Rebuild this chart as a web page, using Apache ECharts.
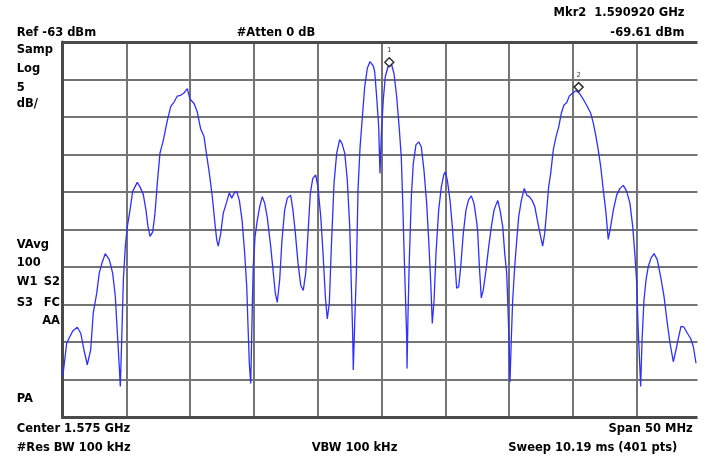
<!DOCTYPE html>
<html>
<head>
<meta charset="utf-8">
<script src="https://cdn.jsdelivr.net/npm/echarts@6/dist/echarts.min.js"></script>
<style>
  html, body { margin: 0; padding: 0; background: #ffffff; }
  #chart { width: 707px; height: 461px; }
</style>
</head>
<body>
<div id="chart"></div>
<script>
// Spectrum analyzer trace: frequency (MHz) and level (dBm)
const freqMHz = [
  1550.49, 1550.80, 1551.27, 1551.63, 1551.90, 1552.15, 1552.41, 1552.68, 1552.88, 1553.15,
  1553.35, 1553.57, 1553.82, 1554.14, 1554.40, 1554.61, 1554.77, 1554.92, 1555.00, 1555.11,
  1555.24, 1555.39, 1555.55, 1555.76, 1555.97, 1556.15, 1556.33, 1556.54, 1556.80, 1557.01,
  1557.17, 1557.33, 1557.54, 1557.72, 1557.90, 1558.11, 1558.37, 1558.68, 1558.95, 1559.21,
  1559.47, 1559.73, 1559.99, 1560.25, 1560.46, 1560.78, 1561.03, 1561.30, 1561.56, 1561.77,
  1561.98, 1562.21, 1562.40, 1562.56, 1562.68, 1562.87, 1563.07, 1563.34, 1563.54, 1563.73,
  1563.91, 1564.12, 1564.33, 1564.54, 1564.75, 1564.91, 1565.01, 1565.11, 1565.22, 1565.27,
  1565.35, 1565.42, 1565.56, 1565.74, 1565.93, 1566.13, 1566.32, 1566.52, 1566.79, 1566.97,
  1567.15, 1567.30, 1567.49, 1567.67, 1567.88, 1568.09, 1568.35, 1568.53, 1568.72, 1568.93,
  1569.14, 1569.34, 1569.53, 1569.71, 1569.89, 1570.08, 1570.31, 1570.49, 1570.71, 1570.89,
  1571.07, 1571.22, 1571.38, 1571.54, 1571.75, 1571.96, 1572.19, 1572.37, 1572.59, 1572.79,
  1572.98, 1573.10, 1573.21, 1573.26, 1573.37, 1573.50, 1573.63, 1573.79, 1573.97, 1574.15,
  1574.36, 1574.57, 1574.83, 1574.94, 1575.09, 1575.25, 1575.35, 1575.46, 1575.61, 1575.77,
  1575.98, 1576.24, 1576.45, 1576.66, 1576.87, 1577.02, 1577.13, 1577.23, 1577.34, 1577.45,
  1577.47, 1577.55, 1577.65, 1577.81, 1577.96, 1578.17, 1578.39, 1578.59, 1578.80, 1579.01,
  1579.17, 1579.33, 1579.45, 1579.59, 1579.74, 1579.95, 1580.16, 1580.35, 1580.47, 1580.63,
  1580.84, 1581.02, 1581.21, 1581.36, 1581.52, 1581.68, 1581.88, 1582.09, 1582.30, 1582.51,
  1582.72, 1582.93, 1583.01, 1583.14, 1583.29, 1583.45, 1583.66, 1583.87, 1584.08, 1584.29,
  1584.44, 1584.58, 1584.76, 1584.97, 1585.13, 1585.28, 1585.38, 1585.46, 1585.54, 1585.64,
  1585.75, 1585.91, 1586.07, 1586.22, 1586.43, 1586.66, 1586.85, 1587.05, 1587.27, 1587.48,
  1587.68, 1587.89, 1588.10, 1588.26, 1588.42, 1588.57, 1588.73, 1588.93, 1589.15, 1589.36,
  1589.56, 1589.77, 1589.98, 1590.19, 1590.45, 1590.71, 1590.97, 1591.24, 1591.34, 1591.60,
  1591.87, 1592.07, 1592.28, 1592.46, 1592.65, 1592.85, 1593.04, 1593.24, 1593.43, 1593.64,
  1593.90, 1594.16, 1594.42, 1594.69, 1594.94, 1595.16, 1595.34, 1595.47, 1595.57, 1595.67,
  1595.78, 1595.89, 1596.04, 1596.20, 1596.38, 1596.59, 1596.83, 1597.08, 1597.35, 1597.61,
  1597.87, 1598.08, 1598.34, 1598.55, 1598.76, 1598.94, 1599.18, 1599.44, 1599.70, 1599.91,
  1600.12
];
const levelDbm = [
  -107.6, -103.1, -101.5, -101.0, -101.8, -104.0, -106.0, -104.0, -99.1, -96.5,
  -93.8, -92.4, -91.2, -92.0, -93.8, -96.9, -101.8, -106.3, -108.9, -102.7,
  -94.7, -90.3, -87.6, -85.4, -82.9, -82.3, -81.7, -82.3, -83.3, -85.4,
  -87.6, -88.9, -88.3, -85.8, -81.8, -77.8, -76.1, -73.5, -71.6, -71.0,
  -70.2, -70.1, -69.8, -69.2, -70.6, -71.2, -72.3, -74.6, -75.6, -78.1,
  -80.5, -83.6, -86.9, -89.4, -90.2, -88.5, -85.8, -84.3, -83.1, -83.8,
  -83.2, -82.9, -84.1, -86.7, -91.2, -95.6, -100.9, -105.8, -108.5, -104.5,
  -97.8, -92.9, -88.9, -86.7, -84.9, -83.6, -84.5, -86.4, -90.3, -93.4,
  -96.5, -97.7, -94.7, -89.4, -85.4, -83.8, -83.4, -85.4, -88.5, -92.5,
  -95.4, -96.1, -93.8, -88.5, -83.2, -81.2, -80.7, -82.3, -86.3, -91.2,
  -96.9, -99.9, -97.8, -90.3, -81.8, -77.8, -76.0, -76.5, -77.8, -81.4,
  -87.6, -95.1, -101.8, -106.7, -100.5, -93.8, -82.7, -77.0, -73.0, -69.0,
  -66.5, -65.6, -66.2, -67.0, -70.3, -74.3, -80.5, -75.2, -70.7, -67.6,
  -66.3, -65.9, -67.2, -70.3, -74.7, -78.3, -84.1, -90.3, -96.5, -102.7,
  -106.5, -99.1, -92.0, -83.6, -79.2, -76.7, -76.3, -77.0, -80.1, -84.5,
  -89.4, -95.1, -100.5, -97.4, -91.2, -85.4, -82.3, -80.7, -80.3, -81.4,
  -84.1, -87.6, -92.0, -95.8, -95.6, -92.9, -88.5, -85.4, -84.0, -83.5,
  -84.5, -87.0, -88.3, -92.9, -97.1, -96.0, -93.4, -90.3, -87.6, -85.4,
  -84.7, -84.1, -85.4, -87.6, -91.2, -93.8, -98.3, -102.7, -108.3, -102.7,
  -97.4, -92.9, -89.4, -86.3, -84.1, -82.5, -83.4, -83.6, -84.1, -84.9,
  -86.7, -88.5, -90.2, -88.5, -85.4, -82.3, -80.5, -77.4, -75.6, -74.3,
  -72.5, -71.4, -71.1, -70.2, -69.8, -69.5, -69.8, -70.5, -70.7, -71.6,
  -72.5, -73.8, -75.6, -77.4, -79.6, -82.7, -85.4, -89.3, -87.6, -85.4,
  -83.4, -82.5, -82.1, -82.9, -84.5, -87.6, -91.6, -95.1, -100.5, -104.5,
  -108.9, -102.7, -97.4, -94.7, -92.9, -91.8, -91.2, -92.0, -94.3, -96.9,
  -100.5, -103.1, -105.6, -104.0, -102.3, -100.9, -101.0, -101.8, -102.5, -103.6,
  -105.8
];

// Markers (name, frequency MHz, level dBm)
const markerNames = ['1', '2'];
const markerFreqMHz = [1576.08, 1590.92];
const markerLevelDbm = [-66.3, -69.61];

// Instrument settings shown in the annotation text
const refLevelDbm = -63;
const dbPerDiv = 5;
const divisions = 10;
const startMHz = 1550;
const stopMHz = 1600;
const traceStartMHz = 1550.47;   // frequency scale origin of the trace display

const traceData = freqMHz.map((f, i) => [f, levelDbm[i]]);
const markerData = markerNames.map((n, i) => ({ name: n, value: [markerFreqMHz[i], markerLevelDbm[i]] }));

const FONT = 'bold 11.5px "DejaVu Sans"';
function label(text, x, y, align) {
  return {
    type: 'text', x: x, y: y, silent: true,
    style: { text: text, font: FONT, fill: '#000000', align: align || 'left', verticalAlign: 'middle' }
  };
}

const mkr2Text = 'Mkr2  ' + (markerFreqMHz[1] / 1000).toFixed(6) + ' GHz';
const mkr2Level = markerLevelDbm[1].toFixed(2) + ' dBm';

const chart = echarts.init(document.getElementById('chart'), null, { renderer: 'canvas' });

const GRID_COLOR = '#747474';
const FRAME_COLOR = '#4a4a4a';

chart.setOption({
  animation: false,
  backgroundColor: '#ffffff',
  grid: { left: 62.5, top: 42, width: 638, height: 375.3, containLabel: false },
  xAxis: [
    { // graticule columns, 5 MHz per division
      type: 'value', min: startMHz, max: stopMHz, interval: (stopMHz - startMHz) / divisions,
      position: 'bottom',
      axisLine: { show: true, onZero: false, lineStyle: { color: FRAME_COLOR, width: 3 } },
      axisTick: { show: false }, axisLabel: { show: false },
      splitLine: { show: true, showMinLine: false, showMaxLine: false, lineStyle: { color: GRID_COLOR, width: 2 } }
    },
    { // trace frequency scale
      type: 'value', min: traceStartMHz, max: traceStartMHz + (stopMHz - startMHz),
      position: 'top',
      axisLine: { show: true, onZero: false, lineStyle: { color: FRAME_COLOR, width: 3 } },
      axisTick: { show: false }, axisLabel: { show: false }, splitLine: { show: false }
    }
  ],
  yAxis: [
    { // graticule rows
      type: 'value', min: 0, max: divisions, interval: 1,
      position: 'left',
      axisLine: { show: true, onZero: false, lineStyle: { color: FRAME_COLOR, width: 3 } },
      axisTick: { show: false }, axisLabel: { show: false },
      splitLine: { show: true, showMinLine: false, showMaxLine: false, lineStyle: { color: GRID_COLOR, width: 2 } }
    },
    { // level scale, reference level at top
      type: 'value', show: false,
      min: refLevelDbm - dbPerDiv * divisions, max: refLevelDbm,
      splitLine: { show: false }
    }
  ],
  series: [
    {
      name: 'Trace', type: 'line', xAxisIndex: 1, yAxisIndex: 1,
      data: traceData, showSymbol: false, symbol: 'none', smooth: false,
      lineStyle: { color: '#2f2fff', width: 1.3 },
      z: 3
    },
    {
      name: 'Markers', type: 'scatter', xAxisIndex: 1, yAxisIndex: 1,
      data: markerData,
      symbol: 'diamond', symbolSize: [9, 9], symbolOffset: [0, -4.5],
      itemStyle: { color: '#ffffff', borderColor: '#000000', borderWidth: 1.5 },
      label: {
        show: true, position: 'top', distance: 3,
        formatter: '{b}', fontFamily: 'DejaVu Sans', fontSize: 7, color: '#000000'
      },
      z: 4
    }
  ],
  graphic: [
    { type: 'rect', z: 100, silent: true, shape: { x: 697.5, y: 36, width: 12, height: 390 }, style: { fill: '#ffffff' } },
    label(mkr2Text, 684.5, 13.3, 'right'),
    label('Ref ' + refLevelDbm + ' dBm', 16.7, 32.7),
    label('#Atten 0 dB', 236.7, 32.7),
    label(mkr2Level, 684.5, 32.7, 'right'),
    label('Samp', 16.7, 50.4),
    label('Log', 16.7, 68.7),
    label(String(dbPerDiv), 16.7, 87.7),
    label('dB/', 16.7, 104.4),
    label('VAvg', 16.7, 245),
    label('100', 16.7, 262.7),
    label('W1', 16.7, 282),
    label('S2', 60, 282, 'right'),
    label('S3', 16.7, 302.7),
    label('FC', 60, 302.7, 'right'),
    label('AA', 60, 321, 'right'),
    label('PA', 16.7, 399.4),
    label('Center 1.575 GHz', 16.7, 428.7),
    label('Span ' + (stopMHz - startMHz) + ' MHz', 692.7, 428.7, 'right'),
    label('#Res BW 100 kHz', 16.7, 447.7),
    label('VBW 100 kHz', 311.7, 447.7),
    label('Sweep 10.19 ms (401 pts)', 508.3, 447.7)
  ]
});
</script>
</body>
</html>
